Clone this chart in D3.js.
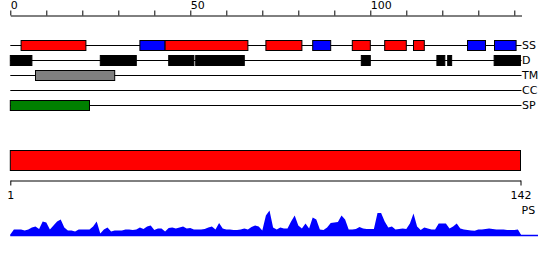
<!DOCTYPE html>
<html>
<head>
<meta charset="utf-8">
<script src="https://cdn.jsdelivr.net/npm/d3@7"></script>
<style>
  body { margin: 0; background: #fff; }
  text { font-family: "DejaVu Sans", sans-serif; font-size: 11px; fill: #000; }
</style>
</head>
<body>
<div id="chartContainer"></div>
<script>
// sequence length and axis ticks
var seqLength = 142
var topTickValues = d3.range(0, 141, 10)
var topTickLabels = [0, 50, 100]
var bottomTickValues = [1, 142]

// track names, top to bottom
var trackNames = ['SS', 'D', 'TM', 'CC', 'SP']

// features per track: [start, end, type]
var ssFeatures = [
    [3, 21, 'helix'], [36, 43, 'strand'], [43, 66, 'helix'], [71, 81, 'helix'],
    [84, 89, 'strand'], [95, 100, 'helix'], [104, 110, 'helix'], [112, 115, 'helix'],
    [127, 132, 'strand'], [134.5, 140.5, 'strand']
]
var dFeatures = [
    [0, 6], [25, 35], [44, 51], [51.5, 65], [97.5, 100],
    [118.5, 120.7], [121.5, 122.6], [134.4, 141.7]
]
var tmFeatures = [[7, 29]]
var ccFeatures = []
var spFeatures = [[0, 22]]

// whole-sequence domain bar
var domainBar = [[1, 142]]

// PS profile, one value per position 0..142
var psValues = [
    1, 6, 6, 6, 5, 6, 8, 9, 6.5, 14, 13, 6, 10, 14, 16, 8, 5, 5, 4, 6,
    6, 6, 6, 9, 14, 2, 6, 8, 4, 5, 5, 5, 6, 6, 5.5, 6, 8, 6.5, 9, 10,
    5.5, 7, 7, 4, 7.5, 8, 7, 8, 9, 7, 7.5, 6, 6, 6, 6.5, 8, 9, 6, 12.5, 7,
    6, 6, 5.5, 5.5, 6, 7, 6, 8.5, 10, 9, 5, 20, 25, 8, 6, 8, 7, 7, 14, 20,
    10, 7, 12, 7, 18, 16, 6, 5.5, 8, 12.5, 13, 13.5, 20, 16, 6, 6, 6.5, 8.5, 7, 6.5,
    6.5, 6.5, 22.5, 22.5, 14, 8, 9, 6, 6.5, 7, 6.5, 12, 22, 9, 5.5, 8, 7, 6, 6, 12,
    12, 12, 7, 9, 12, 7, 6, 5.5, 5, 4.7, 6, 6, 6.5, 7, 6.5, 6, 6, 6, 5.5, 5.5,
    5.5, 6, 0
]

var colors = { helix: '#ff0000', strand: '#0000ff', d: '#000000', tm: '#808080', sp: '#008000', ps: '#0000ff' }

var width = 550, height = 260

var svg = d3.select('#chartContainer').append('svg')
    .attr('width', width)
    .attr('height', height)

var xScale = d3.scaleLinear()
    .domain([0, seqLength])
    .range([10.3, 521.5])

var xBottom = d3.scaleLinear()
    .domain([1, seqLength])
    .range([10.3, 520.5])

var trackY = d3.scalePoint()
    .domain(trackNames)
    .range([45, 105])

// top ruler
var topAxis = d3.axisTop(xScale)
    .tickValues(topTickValues)
    .tickSize(5)
    .tickSizeOuter(0)
    .tickFormat(function(d) { return topTickLabels.indexOf(d) >= 0 ? d : '' })

var topG = svg.append('g')
    .attr('transform', 'translate(0,15.5)')
    .call(topAxis)
topG.selectAll('text')
    .attr('text-anchor', 'start')
    .attr('y', -6.5)
    .attr('dy', 0)
topG.select('.domain').attr('stroke', '#000')
topG.selectAll('.tick line').attr('stroke', '#000')
topG.attr('font-family', null).attr('font-size', null)

// track lines and labels
svg.selectAll('.track-line')
    .data(trackNames)
    .enter()
    .append('line')
    .attr('class', 'track-line')
    .attr('x1', xScale(0))
    .attr('x2', xScale(seqLength))
    .attr('y1', function(d) { return Math.round(trackY(d)) + 0.5 })
    .attr('y2', function(d) { return Math.round(trackY(d)) + 0.5 })
    .attr('stroke', '#000')

svg.selectAll('.track-label')
    .data(trackNames)
    .enter()
    .append('text')
    .attr('class', 'track-label')
    .attr('x', xScale(seqLength) + 0.5)
    .attr('y', function(d) { return trackY(d) + 4 })
    .text(function(d) { return d })

function drawBoxes(features, track, colorFn) {
    var y = Math.round(trackY(track)) - 4.5
    svg.selectAll('.box-' + track)
        .data(features)
        .enter()
        .append('rect')
        .attr('class', 'box-' + track)
        .attr('x', function(d) { return xScale(d[0]) })
        .attr('width', function(d) { return xScale(d[1]) - xScale(d[0]) })
        .attr('y', y)
        .attr('height', 10)
        .attr('fill', colorFn)
        .attr('stroke', '#000')
        .attr('stroke-width', 1)
}

drawBoxes(ssFeatures, 'SS', function(d) { return colors[d[2]] })
drawBoxes(dFeatures, 'D', function() { return colors.d })
drawBoxes(tmFeatures, 'TM', function() { return colors.tm })
drawBoxes(ccFeatures, 'CC', function() { return '#000' })
drawBoxes(spFeatures, 'SP', function() { return colors.sp })

// domain bar
svg.selectAll('.domain-bar')
    .data(domainBar)
    .enter()
    .append('rect')
    .attr('class', 'domain-bar')
    .attr('x', function(d) { return xBottom(d[0]) })
    .attr('width', function(d) { return xBottom(d[1]) - xBottom(d[0]) })
    .attr('y', 150.5)
    .attr('height', 20)
    .attr('fill', '#ff0000')
    .attr('stroke', '#000')

// bottom ruler
var bottomAxis = d3.axisBottom(xBottom)
    .tickValues(bottomTickValues)
    .tickSize(5)
    .tickSizeOuter(0)

var bottomG = svg.append('g')
    .attr('transform', 'translate(0,180.5)')
    .call(bottomAxis)
bottomG.selectAll('text').attr('y', 10.5)
bottomG.select('.domain').attr('stroke', '#000')
bottomG.selectAll('.tick line').attr('stroke', '#000')
bottomG.attr('font-family', null).attr('font-size', null)

// PS profile
var yScale = d3.scaleLinear()
    .domain([0, 30])
    .range([235.5, 205.5])

var area = d3.area()
    .x(function(d, i) { return xScale(i) })
    .y0(yScale(0))
    .y1(function(d) { return yScale(d) })

svg.append('path')
    .datum(psValues)
    .attr('d', area)
    .attr('fill', colors.ps)

svg.append('line')
    .attr('x1', xScale(0))
    .attr('x2', 538)
    .attr('y1', yScale(0))
    .attr('y2', yScale(0))
    .attr('stroke', colors.ps)
    .attr('stroke-width', 1.5)

svg.append('text')
    .attr('x', xScale(seqLength))
    .attr('y', 214)
    .text('PS')
</script>
</body>
</html>
